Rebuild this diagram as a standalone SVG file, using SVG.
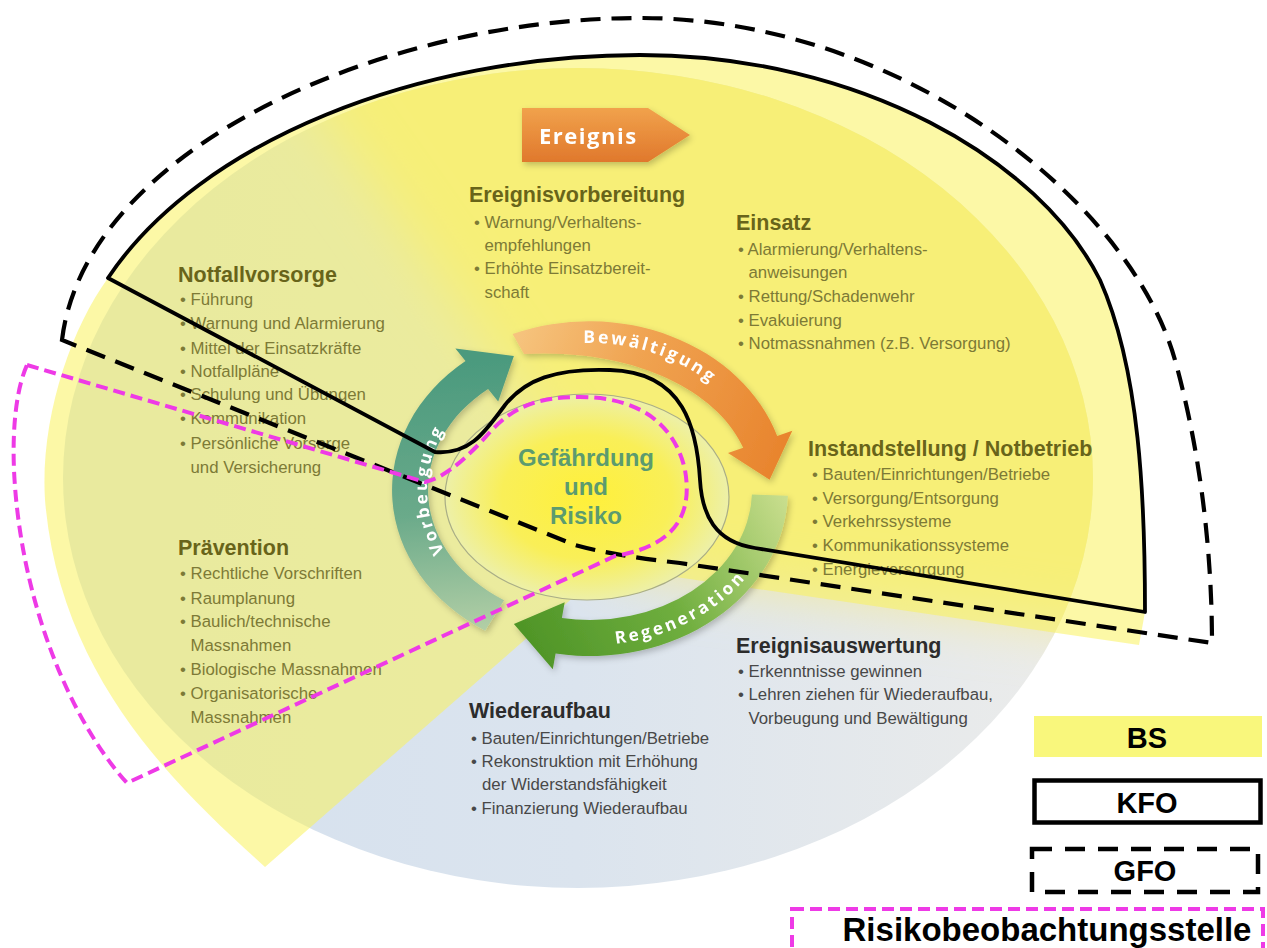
<svg xmlns="http://www.w3.org/2000/svg" width="1267" height="948" viewBox="0 0 1267 948">
<defs>
<style>
.h{font-family:"Liberation Sans",Arial,sans-serif;font-weight:bold;font-size:21.5px}
.b{font-family:"Liberation Sans",Arial,sans-serif;font-size:16.8px}
.ol{fill:#68641a}
.olb{fill:#7d7a36}
.dk{fill:#2c2c2c}
.dkb{fill:#484848}
.kfo{fill:none;stroke:#000;stroke-width:3.8;stroke-linejoin:round}
.gfo{fill:none;stroke:#000;stroke-width:4.2;stroke-dasharray:20 11}
.rbs{fill:none;stroke:#ee3ae6;stroke-width:4;stroke-dasharray:12 6}
.arc{font-family:"Open Sans","DejaVu Sans",sans-serif;font-weight:bold;fill:#fff}
.leg{font-family:"Liberation Sans",Arial,sans-serif;font-weight:bold;fill:#000;text-anchor:middle}
.ctr{font-family:"Liberation Sans",Arial,sans-serif;font-weight:bold;font-size:24px;fill:#5c9b6f;text-anchor:middle}
</style>
<linearGradient id="gBase" x1="0" y1="0" x2="1" y2="0">
<stop offset="0" stop-color="#d4e0ee"/><stop offset="0.5" stop-color="#dbe4ee"/><stop offset="1" stop-color="#ececea"/>
</linearGradient>
<linearGradient id="gV" gradientUnits="userSpaceOnUse" x1="470" y1="360" x2="495" y2="630">
<stop offset="0" stop-color="#4b9a7e"/><stop offset="0.55" stop-color="#6aaa8a"/><stop offset="1" stop-color="#b3cfa6"/>
</linearGradient>
<linearGradient id="gB" gradientUnits="userSpaceOnUse" x1="515" y1="335" x2="790" y2="450">
<stop offset="0" stop-color="#f6c47e"/><stop offset="0.4" stop-color="#f0a452"/><stop offset="1" stop-color="#e8832c"/>
</linearGradient>
<linearGradient id="gR" gradientUnits="userSpaceOnUse" x1="520" y1="640" x2="785" y2="495">
<stop offset="0" stop-color="#4e9426"/><stop offset="0.5" stop-color="#6fae3e"/><stop offset="1" stop-color="#c9de8e"/>
</linearGradient>
<linearGradient id="gE" x1="0" y1="0" x2="0" y2="1">
<stop offset="0" stop-color="#f1a24c"/><stop offset="1" stop-color="#e0782c"/>
</linearGradient>
<radialGradient id="gC" cx="0.5" cy="0.5" r="0.5">
<stop offset="0" stop-color="#fff03a"/><stop offset="0.6" stop-color="#f9ef58"/><stop offset="1" stop-color="#edf0a8"/>
</radialGradient>
<clipPath id="clipEll"><ellipse cx="578" cy="478" rx="515" ry="410"/></clipPath>
<filter id="blur" x="-10%" y="-10%" width="120%" height="120%"><feGaussianBlur stdDeviation="28"/></filter>
<filter id="sh" x="-20%" y="-20%" width="140%" height="140%"><feDropShadow dx="2" dy="3" stdDeviation="3" flood-color="#000" flood-opacity="0.22"/></filter>
<path id="tpB" d="M521.6,354.7 A175 147 0 0 1 751.1,432.6"/>
<path id="tpV" d="M485.2,593.4 A163 135 0 0 1 485.2,386.6"/>
<path id="tpR" d="M537.9,639 A189 155 0 0 0 778,506.2"/>
</defs>

<g id="background">
<ellipse cx="578" cy="478" rx="515" ry="410" fill="url(#gBase)"/>
<g clip-path="url(#clipEll)">
<path d="M-150,-550 L1450,-550 L1450,672 L608,567 L590,490 Z" fill="#f3ea98" filter="url(#blur)"/>
</g>
</g>

<g id="bs-area">
<path d="M608,567 L265,867 C180,790 60,680 45,500 C40,420 70,330 108,278 C200,140 420,55 640,55 C860,55 1040,160 1100,280 C1140,370 1145,500 1145,612 L1139,645 Z" fill="#faf25c" fill-opacity="0.55"/>
</g>

<g id="ereignis" filter="url(#sh)">
<path d="M522,108 H648 L690,135 L648,162 H522 Z" fill="url(#gE)"/>
<text x="539" y="144" font-family="Open Sans, DejaVu Sans, sans-serif" font-weight="bold" font-size="22" letter-spacing="1.5" fill="#fff">Ereignis</text>
</g>

<g id="vorbeugung" filter="url(#sh)">
<path d="M485.1,630.8 A198 166 0 0 1 465.5,361 L455.4,348.6 L513.9,355.9 L498.2,401.4 L488.1,389 A162 130 0 0 0 504.1,600.2 Z" fill="url(#gV)"/>
<text class="arc" font-size="17" letter-spacing="2.6"><textPath href="#tpV" startOffset="50%" text-anchor="middle">Vorbeugung</textPath></text>
</g>

<g id="bewaeltigung" filter="url(#sh)">
<path d="M512.6,334 A198 166 0 0 1 777.2,436 L792.3,430.7 L769.6,479.7 L728,452.9 L743.2,447.7 C720,395 640,348 524,354 Z" fill="url(#gB)"/>
<text class="arc" font-size="17.5" letter-spacing="2.6"><textPath href="#tpB" startOffset="50%" text-anchor="middle">Bewältigung</textPath></text>
</g>

<g id="regeneration" filter="url(#sh)">
<path d="M787.9,495.8 A198 166 0 0 1 555.6,653.5 L552.8,669.2 L513.9,624.1 L564.7,602.3 L561.9,618 A162 130 0 0 0 751.9,494.5 Z" fill="url(#gR)"/>
<text class="arc" font-size="17" letter-spacing="3"><textPath href="#tpR" startOffset="50%" text-anchor="middle">Regeneration</textPath></text>
</g>

<g id="gefaehrdung">
<ellipse cx="587" cy="497" rx="142" ry="103" fill="url(#gC)" stroke="#a9ad86" stroke-width="1.2"/>
<text class="ctr" x="586" y="466">Gefährdung</text>
<text class="ctr" x="586" y="495">und</text>
<text class="ctr" x="586" y="524">Risiko</text>
</g>

<g id="notfallvorsorge">
<text class="h ol" x="178" y="282">Notfallvorsorge</text>
<g class="b olb">
<text x="180" y="305">• Führung</text>
<text x="180" y="329">• Warnung und Alarmierung</text>
<text x="180" y="354">• Mittel der Einsatzkräfte</text>
<text x="180" y="377">• Notfallpläne</text>
<text x="180" y="400">• Schulung und Übungen</text>
<text x="180" y="424">• Kommunikation</text>
<text x="180" y="449">• Persönliche Vorsorge</text>
<text x="190.5" y="473">und Versicherung</text>
</g>
</g>

<g id="ereignisvorbereitung">
<text class="h ol" x="469" y="202">Ereignisvorbereitung</text>
<g class="b olb">
<text x="474" y="228">• Warnung/Verhaltens-</text>
<text x="484.5" y="251">empfehlungen</text>
<text x="474" y="274">• Erhöhte Einsatzbereit-</text>
<text x="484.5" y="298">schaft</text>
</g>
</g>

<g id="einsatz">
<text class="h ol" x="736" y="230">Einsatz</text>
<g class="b olb">
<text x="738" y="255">• Alarmierung/Verhaltens-</text>
<text x="748.5" y="278">anweisungen</text>
<text x="738" y="302">• Rettung/Schadenwehr</text>
<text x="738" y="326">• Evakuierung</text>
<text x="738" y="349">• Notmassnahmen (z.B. Versorgung)</text>
</g>
</g>

<g id="instandstellung">
<text class="h ol" x="808" y="456">Instandstellung / Notbetrieb</text>
<g class="b olb">
<text x="812" y="480">• Bauten/Einrichtungen/Betriebe</text>
<text x="812" y="504">• Versorgung/Entsorgung</text>
<text x="812" y="527">• Verkehrssysteme</text>
<text x="812" y="551">• Kommunikationssysteme</text>
<text x="812" y="575">• Energieversorgung</text>
</g>
</g>

<g id="ereignisauswertung">
<text class="h dk" x="736" y="653">Ereignisauswertung</text>
<g class="b dkb">
<text x="738" y="677">• Erkenntnisse gewinnen</text>
<text x="738" y="700">• Lehren ziehen für Wiederaufbau,</text>
<text x="748.5" y="724">Vorbeugung und Bewältigung</text>
</g>
</g>

<g id="praevention">
<text class="h ol" x="178" y="555">Prävention</text>
<g class="b olb">
<text x="180" y="579">• Rechtliche Vorschriften</text>
<text x="180" y="604">• Raumplanung</text>
<text x="180" y="627">• Baulich/technische</text>
<text x="190.5" y="651">Massnahmen</text>
<text x="180" y="675">• Biologische Massnahmen</text>
<text x="180" y="699">• Organisatorische</text>
<text x="190.5" y="723">Massnahmen</text>
</g>
</g>

<g id="wiederaufbau">
<text class="h dk" x="469" y="718">Wiederaufbau</text>
<g class="b dkb">
<text x="471" y="744">• Bauten/Einrichtungen/Betriebe</text>
<text x="471" y="767">• Rekonstruktion mit Erhöhung</text>
<text x="482" y="790">der Widerstandsfähigkeit</text>
<text x="471" y="814">• Finanzierung Wiederaufbau</text>
</g>
</g>

<g id="connectors">
<path id="gfo-line" class="gfo" d="M62,340 C85,150 380,18 640,18 C900,18 1130,200 1175,360 C1200,450 1212,550 1212,643 L680,563 Q615,556 575,545 Z"/>
<path id="kfo-line" class="kfo" d="M108,278 C200,140 420,55 640,55 C860,55 1040,160 1100,280 C1140,370 1145,500 1145,612 L755,548 C715,542 702,515 700,480 C697,430 685,372 610,370 C555,368 525,380 505,405 C485,432 470,455 435,452 Z"/>
<path id="rbs-line" class="rbs" d="M27,365 L425,482 C445,478 470,455 490,432 C515,405 540,397 580,397 C640,397 675,425 685,470 C692,510 680,545 615,556 L127,783 C70,720 20,600 14,470 C12,420 18,385 27,365 Z"/>
</g>

<g id="legend-bs">
<rect x="1034" y="716" width="228" height="41" fill="#f9f77c"/>
<text class="leg" x="1147" y="748" font-size="29">BS</text>
</g>
<g id="legend-kfo">
<rect x="1034.5" y="780.5" width="226" height="42" fill="none" stroke="#000" stroke-width="4.5"/>
<text class="leg" x="1147" y="813" font-size="29">KFO</text>
</g>
<g id="legend-gfo">
<rect x="1032" y="849" width="226" height="43" fill="none" stroke="#000" stroke-width="4.5" stroke-dasharray="20 13"/>
<text class="leg" x="1145" y="881" font-size="29">GFO</text>
</g>
<g id="legend-rbs">
<rect x="792" y="909" width="471" height="52" fill="none" stroke="#ee3ae6" stroke-width="4" stroke-dasharray="12 6"/>
<text class="leg" x="1047" y="941" font-size="33">Risikobeobachtungsstelle</text>
</g>
</svg>
